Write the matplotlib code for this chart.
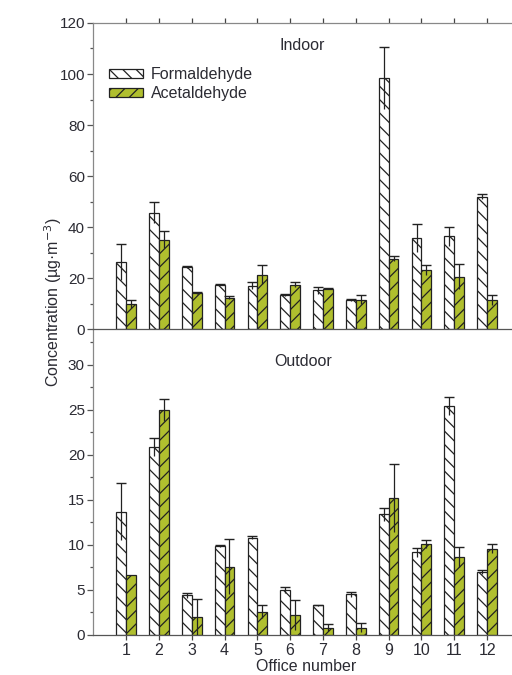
import matplotlib
matplotlib.use("Agg")
import matplotlib.pyplot as plt
import numpy as np
from matplotlib.ticker import MultipleLocator

DPI = 80
S = 100 / DPI  # scale so sizes match a 100-dpi layout

plt.rcParams['font.family'] = ['Liberation Sans', 'DejaVu Sans']
plt.rcParams['hatch.linewidth'] = 0.9 * S

offices = [str(i) for i in range(1, 13)]

indoor_form = [26.5, 45.7, 24.4, 17.6, 17.2, 13.4, 15.3, 11.5, 98.4, 35.8, 36.4, 52.0]
indoor_form_err = [7.0, 4.1, 0.4, 0.2, 1.3, 0.3, 1.3, 0.5, 12.1, 5.6, 3.9, 1.0]
indoor_acet = [10.0, 35.2, 14.3, 12.4, 21.5, 17.6, 15.9, 11.7, 27.7, 23.3, 20.6, 11.5]
indoor_acet_err = [1.7, 3.4, 0.3, 0.6, 3.6, 0.9, 0.2, 1.7, 1.0, 1.8, 4.9, 1.9]

outdoor_form = [13.7, 20.9, 4.4, 9.9, 10.8, 5.0, 3.3, 4.5, 13.4, 9.2, 25.4, 7.0]
outdoor_form_err = [3.2, 1.0, 0.3, 0.1, 0.15, 0.3, 0.05, 0.3, 0.7, 0.5, 1.0, 0.2]
outdoor_acet = [6.7, 25.0, 2.0, 7.6, 2.6, 2.2, 0.8, 0.8, 15.2, 10.1, 8.7, 9.6]
outdoor_acet_err = [0.0, 1.2, 2.0, 3.1, 0.7, 1.7, 0.4, 0.5, 3.8, 0.4, 1.1, 0.5]

GREEN = '#b0bf2e'
TXT = '#2b2b33'
SPINE = '#888888'
W = 0.30
FS = 11.5 * S
TFS = 11 * S

fig = plt.figure(figsize=(512 / DPI, 675 / DPI), dpi=DPI)
ax1 = fig.add_axes([0.1822, 0.5119, 0.8332, 0.4541])
ax2 = fig.add_axes([0.1822, 0.0593, 0.8332, 0.4526])
ax2.patch.set_visible(False)
ax1.set_zorder(2)
ax1.patch.set_visible(False)

x = np.arange(1, 13)


def draw(ax, f, fe, a, ae):
    bf = ax.bar(x - W / 2, f, W, color='white', edgecolor='#222222', linewidth=0.9 * S,
                hatch='\\\\', label='Formaldehyde', zorder=2)
    ba = ax.bar(x + W / 2, a, W, color=GREEN, edgecolor='#222222', linewidth=0.9 * S,
                hatch='//', label='Acetaldehyde', zorder=2)
    for xs, vals, errs in ((x - W / 2, f, fe), (x + W / 2, a, ae)):
        vals = np.array(vals)
        errs = np.array(errs)
        ax.errorbar(xs, vals, yerr=errs, fmt='none', ecolor='#222222', elinewidth=0.9 * S,
                    capsize=0, zorder=3)
        m = errs > 0
        ax.plot(xs[m], (vals + errs)[m], ls='none', marker='_', markersize=7 * S,
                markeredgewidth=1.0 * S, color='#222222', zorder=3)
    return bf, ba


bf, ba = draw(ax1, indoor_form, indoor_form_err, indoor_acet, indoor_acet_err)
draw(ax2, outdoor_form, outdoor_form_err, outdoor_acet, outdoor_acet_err)

for ax in (ax1, ax2):
    ax.set_xlim(0, 13)
    for sp in ax.spines.values():
        sp.set_linewidth(0.9 * S)
    ax.spines['right'].set_visible(False)
    ax.spines['left'].set_color(SPINE)
    ax.spines['bottom'].set_color('#555555')
    ax.spines['top'].set_color(SPINE)
    ax.tick_params(axis='y', direction='out', length=4 * S, width=0.9 * S, color='#555555',
                   labelsize=TFS, labelcolor=TXT, pad=2 * S)
    ax.tick_params(axis='y', which='minor', direction='out', length=2.5 * S, width=0.9 * S,
                   color='#555555')
    ax.set_xticks(x)

ax1.set_ylim(0, 120)
ax1.yaxis.set_major_locator(MultipleLocator(20))
ax1.yaxis.set_minor_locator(MultipleLocator(10))
ax1.xaxis.tick_top()
ax1.tick_params(axis='x', direction='out', length=3.5 * S, width=0.9 * S, color='#444444',
                labeltop=False, labelbottom=False)

ax2.set_ylim(0, 33.94)
ax2.spines['top'].set_visible(False)
ax2.set_yticks([0, 5, 10, 15, 20, 25, 30])
ax2.yaxis.set_minor_locator(MultipleLocator(2.5))
ax2.set_xticklabels(offices)
ax2.tick_params(axis='x', direction='out', length=3.5 * S, width=0.9 * S, color='#444444',
                labelsize=FS, labelcolor=TXT, pad=2 * S)
ax2.set_xlabel('Office number', fontsize=FS, color=TXT, labelpad=1 * S)

fig.text(302 / 512, 1 - 46 / 675, 'Indoor', ha='center', va='center', fontsize=FS, color=TXT)
fig.text(303 / 512, 1 - 362 / 675, 'Outdoor', ha='center', va='center', fontsize=FS, color=TXT)
fig.text(53 / 512, 1 - 302 / 675, 'Concentration (µg·m$^{-3}$)', rotation=90,
         ha='center', va='center', fontsize=FS, color=TXT)

leg = ax1.legend(handles=[bf, ba], loc='upper left', bbox_to_anchor=(109 / 512, 1 - 67 / 675),
                 bbox_transform=fig.transFigure, frameon=False, fontsize=FS,
                 handlelength=2.1, handleheight=0.45, handletextpad=0.5,
                 labelspacing=0.25, borderpad=0, borderaxespad=0)
for t in leg.get_texts():
    t.set_color(TXT)

fig.savefig('out.png', dpi=DPI, facecolor='white')
